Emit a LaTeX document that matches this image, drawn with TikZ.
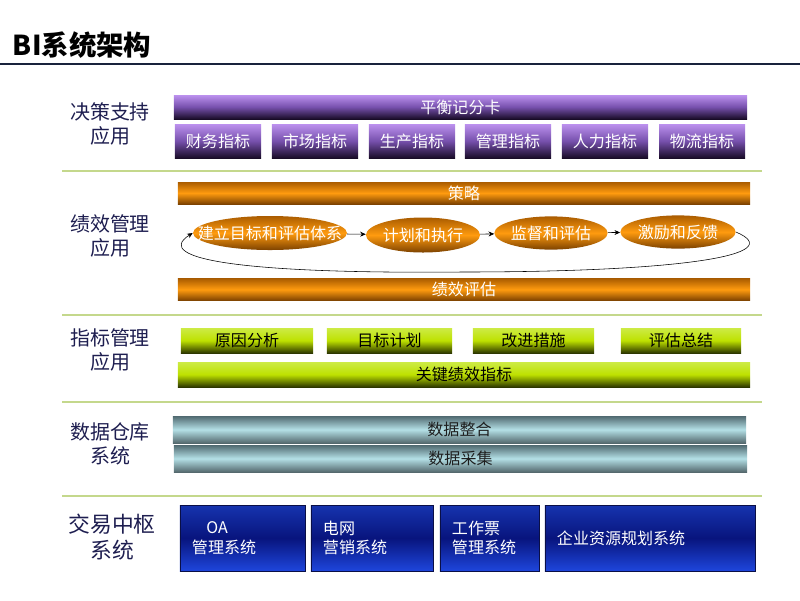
\documentclass[tikz,border=0pt]{standalone}
\usepackage{fontspec}
\setmainfont{Noto Sans CJK SC}
\usetikzlibrary{arrows.meta,shapes.geometric}

\definecolor{navy}{RGB}{30,30,80}
\definecolor{sepline}{RGB}{196,216,140}
\definecolor{rulecol}{RGB}{25,35,60}

\begin{document}
\begin{tikzpicture}[x=0.025cm, y=-0.025cm, >={Stealth[length=4pt,width=3.5pt]}]
  \tikzstyle{lbl}=[align=center, text=navy, font=\fontsize{14.2pt}{17.5pt}\selectfont]
  \tikzstyle{boxtext}=[inner sep=0pt, font=\fontsize{11.4pt}{14pt}\selectfont]
  \tikzstyle{purplebox}=[boxtext, text=white, top color={rgb,255:red,188;green,145;blue,238}, bottom color={rgb,255:red,25;green,12;blue,40}, middle color={rgb,255:red,118;green,80;blue,172}]
  \tikzstyle{orangebox}=[boxtext, text=white, top color={rgb,255:red,170;green,92;blue,0}, bottom color={rgb,255:red,125;green,66;blue,0}, middle color={rgb,255:red,255;green,155;blue,15}]
  \tikzstyle{orangeoval}=[orangebox, ellipse]
  \tikzstyle{greenbox}=[boxtext, text=black, top color={rgb,255:red,205;green,235;blue,70}, bottom color={rgb,255:red,45;green,55;blue,0}, middle color={rgb,255:red,190;green,225;blue,0}]
  \tikzstyle{tealbox}=[boxtext, text={rgb,255:red,30;green,30;blue,30}, top color={rgb,255:red,80;green,105;blue,112}, bottom color={rgb,255:red,85;green,105;blue,110}, middle color={rgb,255:red,180;green,224;blue,230}]
  \tikzstyle{bluebox}=[boxtext, text=white, align=left, inner xsep=0.3cm, minimum height=1.65cm, draw={rgb,255:red,10;green,15;blue,70}, top color={rgb,255:red,22;green,52;blue,175}, bottom color={rgb,255:red,30;green,70;blue,220}, middle color={rgb,255:red,8;green,20;blue,125}]
  \tikzstyle{sep}=[sepline, line width=2pt]

  \useasboundingbox (0,0) rectangle (800,600);

  % Title
  \node[anchor=west, text=black, font=\fontsize{19.5pt}{22pt}\selectfont\bfseries] (title) at (8,45) {BI系统架构};
  \draw[rulecol, line width=1.8pt] (0,64) -- (800,64);

  % Row labels
  \node[lbl] (l1) at (110,124) {决策支持\\应用};
  \node[lbl] (l2) at (110,236) {绩效管理\\应用};
  \node[lbl] (l3) at (110,350) {指标管理\\应用};
  \node[lbl] (l4) at (110,444) {数据仓库\\系统};
  \node[lbl, font=\fontsize{15.5pt}{19pt}\selectfont] (l5) at (112,537) {交易中枢\\系统};

  % Separators
  \draw[sep] (62,171) -- (762,171);
  \draw[sep] (62,315) -- (762,315);
  \draw[sep] (62,402) -- (762,402);
  \draw[sep] (62,496) -- (762,496);

  % Decision support
  \node[purplebox, minimum width=14.325cm, minimum height=0.6cm] (bsc) at (460.5,107) {平衡记分卡};
  \node[purplebox, minimum width=2.15cm, minimum height=0.85cm] (p1) at (218,141) {财务指标};
  \node[purplebox, minimum width=2.15cm, minimum height=0.85cm] (p2) at (315,141) {市场指标};
  \node[purplebox, minimum width=2.15cm, minimum height=0.85cm] (p3) at (412,141) {生产指标};
  \node[purplebox, minimum width=2.15cm, minimum height=0.85cm] (p4) at (508,141) {管理指标};
  \node[purplebox, minimum width=2.15cm, minimum height=0.85cm] (p5) at (605,141) {人力指标};
  \node[purplebox, minimum width=2.15cm, minimum height=0.85cm] (p6) at (702,141) {物流指标};

  % Performance management
  \node[orangebox, minimum width=14.3cm, minimum height=0.55cm] (strat) at (464,193) {策略};
  \node[orangeoval, inner xsep=-0.45cm, minimum width=3.85cm, minimum height=0.85cm] (e1) at (270,233) {建立目标和评估体系};
  \node[orangeoval, inner xsep=-0.1cm, minimum width=2.85cm, minimum height=0.875cm] (e2) at (423,235) {计划和执行};
  \node[orangeoval, inner xsep=-0.1cm, minimum width=2.83cm, minimum height=0.83cm] (e3) at (551,233) {监督和评估};
  \node[orangeoval, inner xsep=-0.1cm, minimum width=2.88cm, minimum height=0.83cm] (e4) at (678,232) {激励和反馈};
  \node[orangebox, minimum width=14.3cm, minimum height=0.55cm] (eval) at (464,289.5) {绩效评估};
  \coordinate (loopbot) at (462,272);

  \draw[->] (e1) -- (e2);
  \draw[->] (e2) -- (e3);
  \draw[->] (e3) -- (e4);
  \draw[->] (e4.east) .. controls (790,255) and (680,272) .. (loopbot)
    .. controls (250,274) and (150,260) .. (e1.west);

  % Indicator management
  \node[greenbox, minimum width=3.3cm, minimum height=0.625cm] (g1) at (247,340.5) {原因分析};
  \node[greenbox, minimum width=3.125cm, minimum height=0.625cm] (g2) at (389.5,340.5) {目标计划};
  \node[greenbox, minimum width=3.025cm, minimum height=0.625cm] (g3) at (533.5,340.5) {改进措施};
  \node[greenbox, minimum width=3.0cm, minimum height=0.625cm] (g4) at (681,340.5) {评估总结};
  \node[greenbox, minimum width=14.3cm, minimum height=0.625cm] (kpi) at (464,374.5) {关键绩效指标};

  % Data warehouse
  \node[tealbox, minimum width=14.325cm, minimum height=0.675cm] (dint) at (459.5,429.5) {数据整合};
  \node[tealbox, minimum width=14.325cm, minimum height=0.675cm] (dcol) at (460.5,458.5) {数据采集};

  % Transaction systems
  \node[bluebox, text width=2.525cm] (b1) at (242.5,538) {\hspace*{0.9em}OA\\管理系统};
  \node[bluebox, text width=2.45cm] (b2) at (372,538) {电网\\营销系统};
  \node[bluebox, text width=1.875cm] (b3) at (489.5,538) {工作票\\管理系统};
  \node[bluebox, text width=4.65cm] (b4) at (650,538) {企业资源规划系统};
\end{tikzpicture}
\end{document}
